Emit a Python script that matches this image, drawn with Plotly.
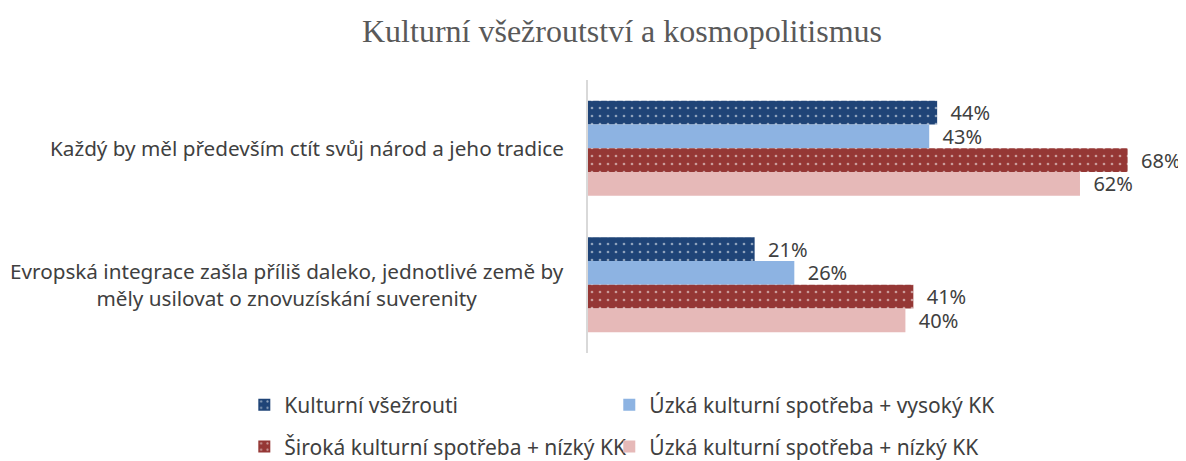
import plotly.graph_objects as go

categories = [
    "Každý by měl především ctít svůj národ a jeho tradice",
    "Evropská integrace zašla příliš daleko, jednotlivé země by<br>měly usilovat o znovuzískání suverenity",
]
series_names = [
    "Kulturní všežrouti",
    "Úzká kulturní spotřeba + vysoký KK",
    "Široká kulturní spotřeba + nízký KK",
    "Úzká kulturní spotřeba + nízký KK",
]
values_vsezrouti = [44, 21]
values_uzka_vysoky = [43, 26]
values_siroka_nizky = [68, 41]
values_uzka_nizky = [62, 40]

series_values = [values_vsezrouti, values_uzka_vysoky, values_siroka_nizky, values_uzka_nizky]
colors = ["#1F4477", "#8DB3E2", "#953735", "#E6B9B8"]
patterned = [True, False, True, False]
legend_ids = ["legend", "legend2", "legend3", "legend4"]

TXT = "#404040"
FONT = "Noto Sans"

# the page body adds an 8px margin, so the figure is drawn 8px smaller
W, H = 1178, 453

fig = go.Figure()
y_idx = list(range(len(categories)))
for name, vals, col, pat, lg in zip(series_names, series_values, colors, patterned, legend_ids):
    marker = dict(color=col, line=dict(width=0))
    if pat:
        marker["pattern"] = dict(shape=".", fgcolor="white", bgcolor=col, size=8, solidity=0.09)
    fig.add_trace(go.Bar(
        y=y_idx, x=vals, name=name, orientation="h", marker=marker,
        text=[f"\u00a0\u00a0{v}%" for v in vals], textposition="outside",
        textfont=dict(family=FONT, size=20, color=TXT),
        cliponaxis=False, constraintext="none", legend=lg, hoverinfo="skip",
    ))

for i, c in enumerate(categories):
    fig.add_annotation(
        x=0, y=i, xref="x", yref="y", text=c, showarrow=False,
        xanchor="right", yanchor="middle", align="center", xshift=-22,
        font=dict(family=FONT, size=20.7, color=TXT),
    )

legend_common = dict(
    orientation="h", xanchor="left", yanchor="middle",
    font=dict(family=FONT, size=21, color=TXT), bgcolor="rgba(0,0,0,0)",
)
col_x = [-0.5845, 0.0362]
row_y = [-0.1905, -0.344]

fig.update_layout(
    width=W, height=H,
    margin=dict(l=580, r=10, t=72, b=108, autoexpand=False),
    paper_bgcolor="white", plot_bgcolor="white",
    title=dict(text="Kulturní všežroutství a kosmopolitismus", x=614 / W, xanchor="center",
               y=1 - 23 / H, yanchor="middle",
               font=dict(family="Liberation Serif", size=32, color="#595959")),
    barmode="group", bargap=0.304, bargroupgap=0,
    xaxis=dict(range=[0, 74.1], showgrid=False, zeroline=False, showticklabels=False,
               showline=False, ticks=""),
    yaxis=dict(range=[1.5, -0.5], showgrid=False, zeroline=False, showticklabels=False,
               showline=True, linecolor="#D9D9D9", linewidth=1.5, ticks=""),
    legend=dict(x=col_x[0], y=row_y[0], **legend_common),
    legend2=dict(x=col_x[1], y=row_y[0], **legend_common),
    legend3=dict(x=col_x[0], y=row_y[1], **legend_common),
    legend4=dict(x=col_x[1], y=row_y[1], **legend_common),
    showlegend=True,
)

fig.write_html("out.html")
